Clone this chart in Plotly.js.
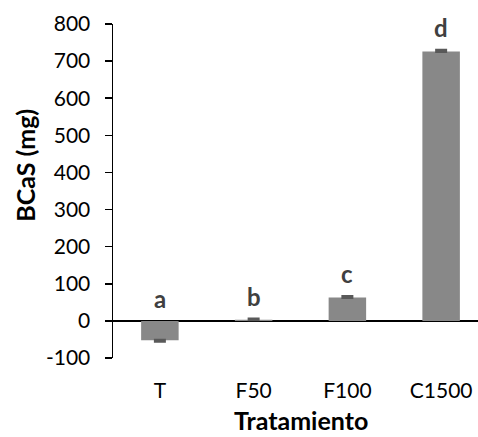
<!DOCTYPE html>
<html>
<head>
<meta charset="utf-8">
<script src="https://cdn.plot.ly/plotly-3.0.1.min.js"></script>
<style>
html, body { margin: 0; padding: 0; overflow: hidden; background: #fff; }
#chart { width: 490px; height: 437px; }
</style>
</head>
<body>
<div id="chart"></div>
<script>
var categories = ["T", "F50", "F100", "C1500"];
var values = [-52, 3, 63, 726];
var errors = [3, 2, 3, 3];
var letters = ["a", "b", "c", "d"];
var yTicks = [-100, 0, 100, 200, 300, 400, 500, 600, 700, 800];

var FONT = "Lato, 'Open Sans', sans-serif";

var errPlus = values.map(function (v, i) { return v >= 0 ? errors[i] : 0; });
var errMinus = values.map(function (v, i) { return v < 0 ? errors[i] : 0; });

var trace = {
  type: "bar",
  x: categories,
  y: values,
  marker: { color: "#888888", line: { width: 0 } },
  error_y: {
    type: "data",
    symmetric: false,
    array: errPlus,
    arrayminus: errMinus,
    color: "#595959",
    thickness: 3,
    width: 6
  },
  hoverinfo: "none"
};

var annotations = categories.map(function (c, i) {
  var top = Math.max(values[i] + errPlus[i], 0);
  return {
    x: c, y: top, xref: "x", yref: "y",
    text: letters[i],
    showarrow: false,
    yanchor: "bottom",
    yshift: 6,
    font: { family: FONT, size: 24, color: "#404040", weight: "bold" }
  };
});

annotations.push({
  text: "BCaS (mg)",
  xref: "paper", yref: "paper",
  x: -0.235, y: 0.578,
  xanchor: "center", yanchor: "middle",
  textangle: -90, showarrow: false,
  font: { family: FONT, size: 25, color: "#000", weight: "bold" }
});

annotations.push({
  text: "Tratamiento",
  xref: "paper", yref: "paper",
  x: 0.5, y: -0.234,
  xanchor: "center", yanchor: "bottom",
  borderpad: 0,
  showarrow: false,
  font: { family: FONT, size: 25, color: "#000", weight: "bold" }
});

var layout = {
  width: 490,
  height: 437,
  margin: { l: 113, r: 2, t: 24, b: 79, pad: 0 },
  paper_bgcolor: "#fff",
  plot_bgcolor: "#fff",
  showlegend: false,
  bargap: 0.6,
  font: { family: FONT, size: 21, color: "#000" },
  xaxis: {
    type: "category",
    showline: false,
    showgrid: false,
    zeroline: false,
    ticks: "",
    tickfont: { family: FONT, size: 21, color: "#000" },
    ticklabelstandoff: 18
  },
  yaxis: {
    range: [-100, 800],
    tickvals: yTicks,
    ticktext: yTicks.map(String),
    showline: true,
    linecolor: "#000",
    linewidth: 1.5,
    ticks: "outside",
    ticklen: 7,
    tickwidth: 1.5,
    tickcolor: "#000",
    showgrid: false,
    zeroline: true,
    zerolinecolor: "#000",
    zerolinewidth: 1.5,
    tickfont: { family: FONT, size: 21, color: "#000" },
    ticklabelstandoff: 10
  },
  annotations: annotations
};

Plotly.newPlot("chart", [trace], layout, { displayModeBar: false, staticPlot: true });
</script>
</body>
</html>
